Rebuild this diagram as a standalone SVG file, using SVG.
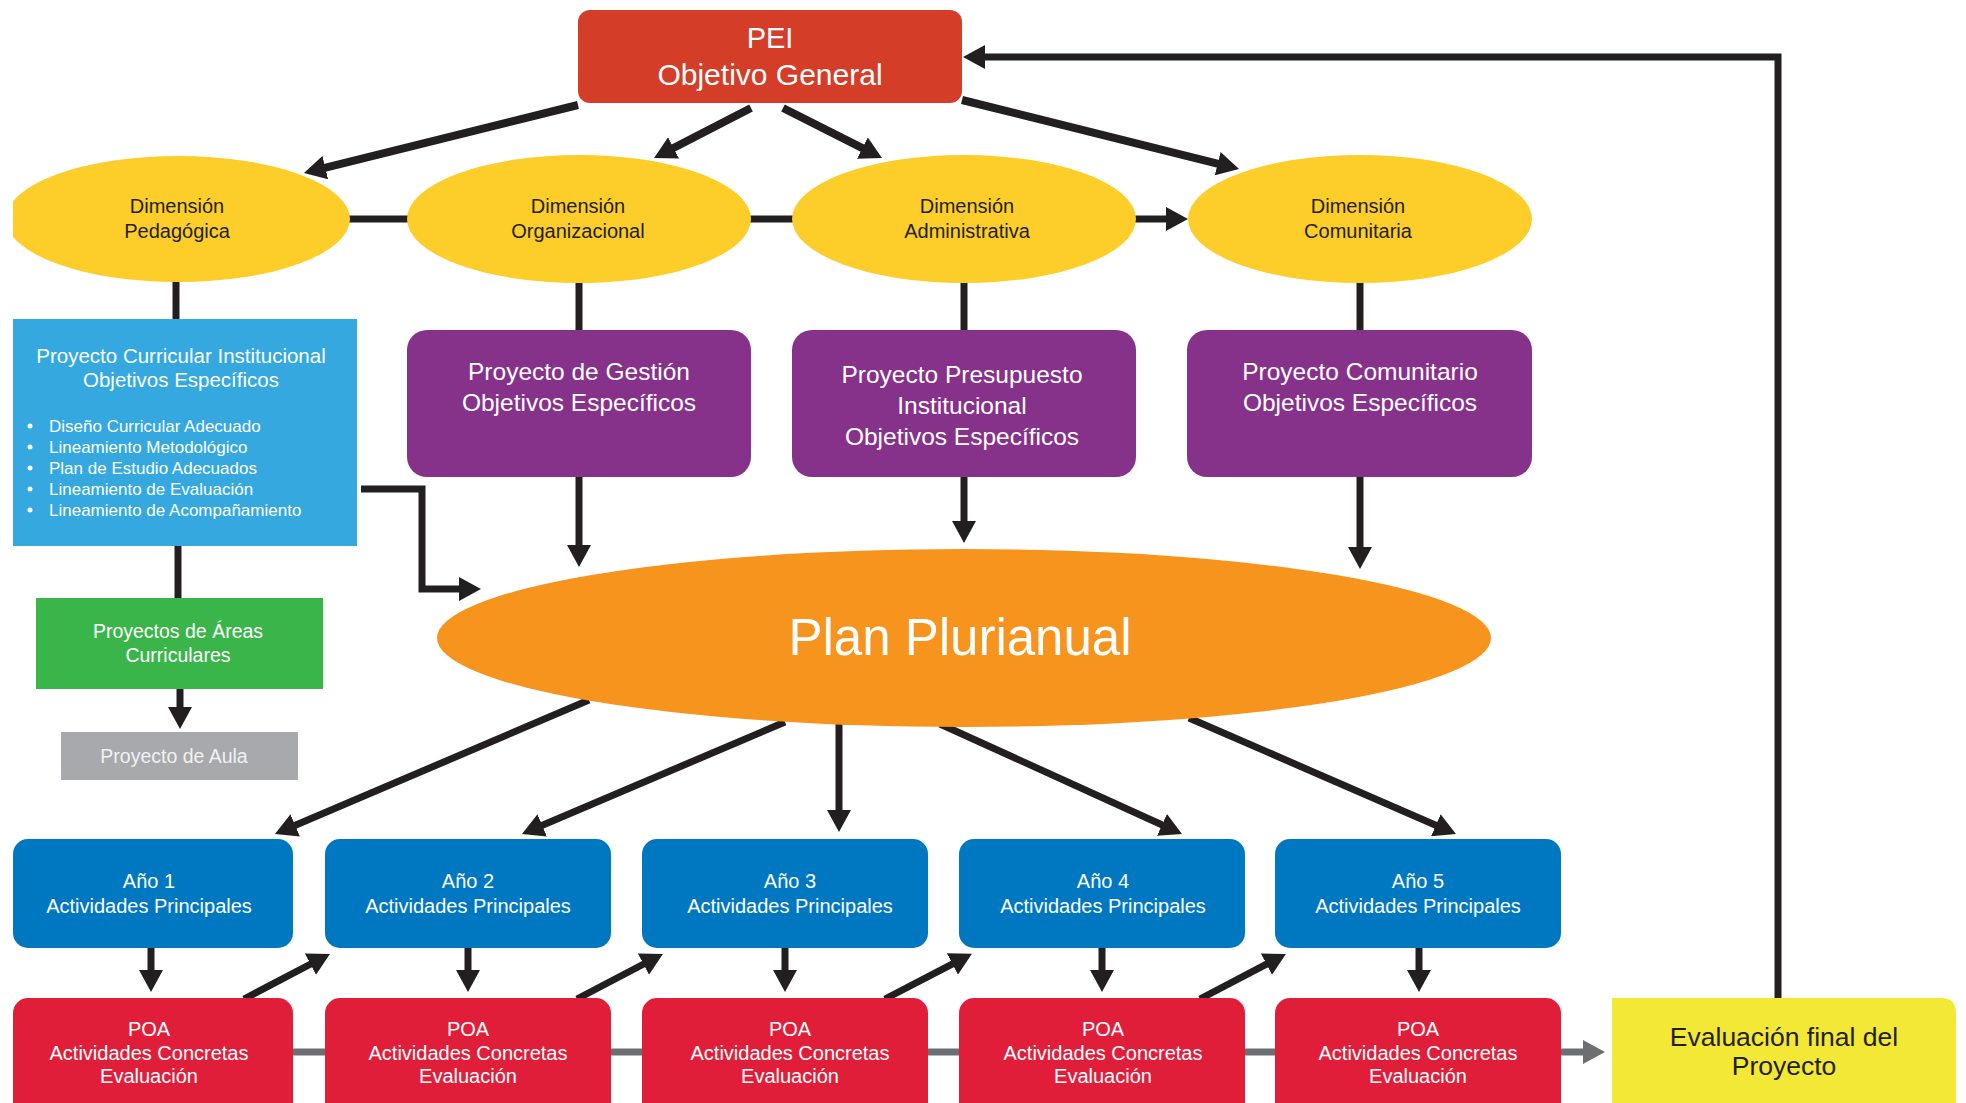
<svg xmlns="http://www.w3.org/2000/svg" width="1966" height="1103" viewBox="0 0 1966 1103">
<style>
  text { font-family: "Liberation Sans", Arial, sans-serif; text-anchor: middle; }
  .w { fill: #ffffff; }
  .d { fill: #231f20; }
  .ln { fill: none; stroke: #231f20; stroke-width: 7; stroke-linejoin: miter; }
  .lnb { fill: none; stroke: #231f20; stroke-width: 8; }
  .arr { marker-end: url(#ah); }
  .gl { fill: none; stroke: #6d6e71; stroke-width: 7; }
  .dim { fill: #fdcd29; }
  .pur { fill: #86328a; }
  .ano { fill: #0077c1; }
  .poa { fill: #e01e3a; }
  .t20 { font-size: 20px; }
</style>
<defs>
  <marker id="ah" viewBox="0 0 22 24" markerWidth="22" markerHeight="24" refX="10" refY="12" orient="auto" markerUnits="userSpaceOnUse">
    <path d="M0,0 L22,12 L0,24 Z" fill="#231f20"/>
  </marker>
  <marker id="ahg" viewBox="0 0 22 24" markerWidth="22" markerHeight="24" refX="10" refY="12" orient="auto" markerUnits="userSpaceOnUse">
    <path d="M0,0 L22,12 L0,24 Z" fill="#6d6e71"/>
  </marker>
  <clipPath id="clipLeft">
    <rect x="13" y="0" width="1953" height="1103"/>
  </clipPath>
</defs>
<rect x="0" y="0" width="1966" height="1103" fill="#ffffff"/>

<g id="connectors">
  <!-- PEI to dimensions -->
  <line class="lnb arr" x1="578" y1="105" x2="315.6" y2="170.1"/>
  <line class="lnb arr" x1="751" y1="108" x2="664.7" y2="152.5"/>
  <line class="lnb arr" x1="783" y1="108" x2="871.3" y2="152.6"/>
  <line class="lnb arr" x1="962" y1="100" x2="1227.4" y2="166.1"/>
  <!-- links between dimensions -->
  <line class="ln" x1="345" y1="219" x2="412" y2="219"/>
  <line class="ln" x1="745" y1="219" x2="797" y2="219"/>
  <line class="ln arr" x1="1130" y1="219" x2="1176" y2="219"/>
  <!-- feedback -->
  <path class="ln arr" d="M1778,998 L1778,57 L975,57"/>
  <!-- dimensions down -->
  <line class="ln" x1="176" y1="280" x2="176" y2="320"/>
  <line class="ln" x1="579" y1="280" x2="579" y2="331"/>
  <line class="ln" x1="964" y1="280" x2="964" y2="331"/>
  <line class="ln" x1="1360" y1="280" x2="1360" y2="331"/>
  <!-- left column -->
  <line class="ln" x1="178" y1="544" x2="178" y2="599"/>
  <line class="ln arr" x1="180" y1="688" x2="180" y2="717"/>
  <path class="ln arr" d="M361,489 L422,489 L422,589 L469,589"/>
  <!-- purple to plan -->
  <line class="ln arr" x1="579" y1="476" x2="579" y2="555"/>
  <line class="ln arr" x1="964" y1="476" x2="964" y2="531"/>
  <line class="ln arr" x1="1360" y1="476" x2="1360" y2="557"/>
  <!-- plan to years -->
  <line class="ln arr" x1="589" y1="700" x2="286" y2="829.3"/>
  <line class="ln arr" x1="785" y1="722" x2="533" y2="829.3"/>
  <line class="ln arr" x1="839" y1="715" x2="839" y2="820"/>
  <line class="ln arr" x1="940" y1="724" x2="1171.1" y2="829"/>
  <line class="ln arr" x1="1189" y1="718" x2="1445" y2="829.2"/>
  <!-- years to POA -->
  <line class="ln arr" x1="151" y1="947" x2="151" y2="980"/>
  <line class="ln arr" x1="468" y1="947" x2="468" y2="980"/>
  <line class="ln arr" x1="785" y1="947" x2="785" y2="980"/>
  <line class="ln arr" x1="1102" y1="947" x2="1102" y2="980"/>
  <line class="ln arr" x1="1419" y1="947" x2="1419" y2="980"/>
  <!-- POA to next year -->
  <line class="ln arr" x1="244" y1="999" x2="319.3" y2="959.5"/>
  <line class="ln arr" x1="577" y1="999" x2="652.3" y2="959.5"/>
  <line class="ln arr" x1="885" y1="999" x2="961.3" y2="959.4"/>
  <line class="ln arr" x1="1200" y1="999" x2="1275.3" y2="959.5"/>
  <!-- POA chain -->
  <line class="gl" x1="290" y1="1052" x2="328" y2="1052"/>
  <line class="gl" x1="607" y1="1052" x2="645" y2="1052"/>
  <line class="gl" x1="924" y1="1052" x2="962" y2="1052"/>
  <line class="gl" x1="1241" y1="1052" x2="1278" y2="1052"/>
  <line class="gl" x1="1558" y1="1052" x2="1593" y2="1052" marker-end="url(#ahg)"/>
</g>

<g id="pei">
  <rect x="578" y="10" width="384" height="93" rx="12" fill="#d43d27"/>
  <text class="w" x="770" y="48" font-size="29">PEI</text>
  <text class="w" x="770" y="85" font-size="30">Objetivo General</text>
</g>

<g id="dim-pedagogica">
  <ellipse class="dim" cx="178" cy="219" rx="172" ry="63" clip-path="url(#clipLeft)"/>
  <text class="d t20" x="177" y="213">Dimensión</text>
  <text class="d t20" x="177" y="238">Pedagógica</text>
</g>
<g id="dim-organizacional">
  <ellipse class="dim" cx="579" cy="219" rx="172" ry="64"/>
  <text class="d t20" x="578" y="213">Dimensión</text>
  <text class="d t20" x="578" y="238">Organizacional</text>
</g>
<g id="dim-administrativa">
  <ellipse class="dim" cx="964" cy="219" rx="172" ry="64"/>
  <text class="d t20" x="967" y="213">Dimensión</text>
  <text class="d t20" x="967" y="238">Administrativa</text>
</g>
<g id="dim-comunitaria">
  <ellipse class="dim" cx="1360" cy="219" rx="172" ry="64"/>
  <text class="d t20" x="1358" y="213">Dimensión</text>
  <text class="d t20" x="1358" y="238">Comunitaria</text>
</g>

<g id="pci">
  <rect x="13" y="319" width="344" height="227" fill="#34a8df"/>
  <text class="w" x="181" y="363" font-size="20.5">Proyecto Curricular Institucional</text>
  <text class="w" x="181" y="387" font-size="20.5">Objetivos Específicos</text>
  <g font-size="17" fill="#ffffff">
    <circle cx="30" cy="426" r="2.5"/>
    <circle cx="30" cy="447" r="2.5"/>
    <circle cx="30" cy="468" r="2.5"/>
    <circle cx="30" cy="489" r="2.5"/>
    <circle cx="30" cy="510" r="2.5"/>
    <text x="49" y="432" style="text-anchor:start">Diseño Curricular Adecuado</text>
    <text x="49" y="453" style="text-anchor:start">Lineamiento Metodológico</text>
    <text x="49" y="474" style="text-anchor:start">Plan de Estudio Adecuados</text>
    <text x="49" y="495" style="text-anchor:start">Lineamiento de Evaluación</text>
    <text x="49" y="516" style="text-anchor:start">Lineamiento de Acompañamiento</text>
  </g>
</g>

<g id="areas">
  <rect x="36" y="598" width="287" height="91" fill="#3ab54a"/>
  <text class="w" x="178" y="638" font-size="19.5">Proyectos de Áreas</text>
  <text class="w" x="178" y="662" font-size="19.5">Curriculares</text>
</g>

<g id="aula">
  <rect x="61" y="732" width="237" height="48" fill="#a7a9ac"/>
  <text x="174" y="763" font-size="19.5" fill="#f1f1f2">Proyecto de Aula</text>
</g>

<g id="gestion">
  <rect class="pur" x="407" y="330" width="344" height="147" rx="20"/>
  <text class="w" x="579" y="380" font-size="24.5">Proyecto de Gestión</text>
  <text class="w" x="579" y="411" font-size="24.5">Objetivos Específicos</text>
</g>
<g id="presupuesto">
  <rect class="pur" x="792" y="330" width="344" height="147" rx="20"/>
  <text class="w" x="962" y="383" font-size="24.5">Proyecto Presupuesto</text>
  <text class="w" x="962" y="414" font-size="24.5">Institucional</text>
  <text class="w" x="962" y="445" font-size="24.5">Objetivos Específicos</text>
</g>
<g id="comunitario">
  <rect class="pur" x="1187" y="330" width="345" height="147" rx="20"/>
  <text class="w" x="1360" y="380" font-size="24.5">Proyecto Comunitario</text>
  <text class="w" x="1360" y="411" font-size="24.5">Objetivos Específicos</text>
</g>

<g id="plan">
  <ellipse cx="964" cy="638" rx="527" ry="89" fill="#f7941d"/>
  <text class="w" x="960" y="655" font-size="51">Plan Plurianual</text>
</g>

<g id="ano1">
  <rect class="ano" x="13" y="839" width="280" height="109" rx="15"/>
  <text class="w t20" x="149" y="888">Año 1</text>
  <text class="w t20" x="149" y="913">Actividades Principales</text>
</g>
<g id="ano2">
  <rect class="ano" x="325" y="839" width="286" height="109" rx="15"/>
  <text class="w t20" x="468" y="888">Año 2</text>
  <text class="w t20" x="468" y="913">Actividades Principales</text>
</g>
<g id="ano3">
  <rect class="ano" x="642" y="839" width="286" height="109" rx="15"/>
  <text class="w t20" x="790" y="888">Año 3</text>
  <text class="w t20" x="790" y="913">Actividades Principales</text>
</g>
<g id="ano4">
  <rect class="ano" x="959" y="839" width="286" height="109" rx="15"/>
  <text class="w t20" x="1103" y="888">Año 4</text>
  <text class="w t20" x="1103" y="913">Actividades Principales</text>
</g>
<g id="ano5">
  <rect class="ano" x="1275" y="839" width="286" height="109" rx="15"/>
  <text class="w t20" x="1418" y="888">Año 5</text>
  <text class="w t20" x="1418" y="913">Actividades Principales</text>
</g>

<g id="poa1">
  <rect class="poa" x="13" y="998" width="280" height="130" rx="15"/>
  <text class="w t20" x="149" y="1036">POA</text>
  <text class="w t20" x="149" y="1060">Actividades Concretas</text>
  <text class="w t20" x="149" y="1083">Evaluación</text>
</g>
<g id="poa2">
  <rect class="poa" x="325" y="998" width="286" height="130" rx="15"/>
  <text class="w t20" x="468" y="1036">POA</text>
  <text class="w t20" x="468" y="1060">Actividades Concretas</text>
  <text class="w t20" x="468" y="1083">Evaluación</text>
</g>
<g id="poa3">
  <rect class="poa" x="642" y="998" width="286" height="130" rx="15"/>
  <text class="w t20" x="790" y="1036">POA</text>
  <text class="w t20" x="790" y="1060">Actividades Concretas</text>
  <text class="w t20" x="790" y="1083">Evaluación</text>
</g>
<g id="poa4">
  <rect class="poa" x="959" y="998" width="286" height="130" rx="15"/>
  <text class="w t20" x="1103" y="1036">POA</text>
  <text class="w t20" x="1103" y="1060">Actividades Concretas</text>
  <text class="w t20" x="1103" y="1083">Evaluación</text>
</g>
<g id="poa5">
  <rect class="poa" x="1275" y="998" width="286" height="130" rx="15"/>
  <text class="w t20" x="1418" y="1036">POA</text>
  <text class="w t20" x="1418" y="1060">Actividades Concretas</text>
  <text class="w t20" x="1418" y="1083">Evaluación</text>
</g>

<g id="evaluacion-final">
  <path d="M1612,998 L1941,998 Q1956,998 1956,1013 L1956,1103 L1612,1103 Z" fill="#f2e835"/>
  <text class="d" x="1784" y="1046" font-size="26.5">Evaluación final del</text>
  <text class="d" x="1784" y="1075" font-size="26.5">Proyecto</text>
</g>
</svg>
